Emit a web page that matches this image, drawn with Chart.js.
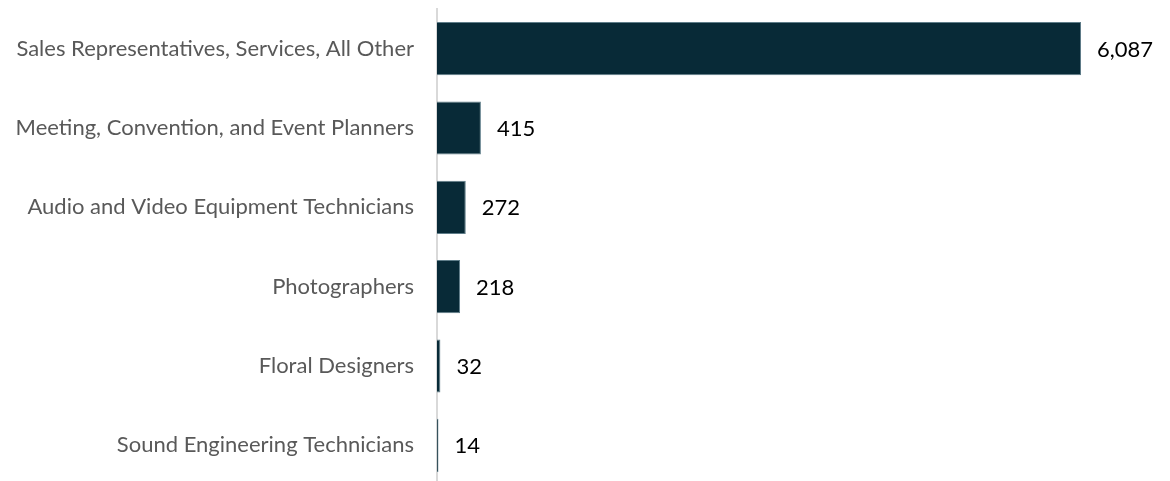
<!DOCTYPE html>
<html>
<head>
<meta charset="utf-8">
<script src="https://cdn.jsdelivr.net/npm/chart.js@4/dist/chart.umd.min.js"></script>
<style>
    html, body { margin: 0; padding: 0; background: #ffffff; overflow: hidden; }
    /* the plot runs a few pixels past the bottom edge of the page */
    #wrap { width: 1170px; height: 485px; position: relative; }
</style>
</head>
<body>
<div id="wrap"><canvas id="Bar_Chart"></canvas></div>
<script>
const occupations = [
    'Sales Representatives, Services, All Other',
    'Meeting, Convention, and Event Planners',
    'Audio and Video Equipment Technicians',
    'Photographers',
    'Floral Designers',
    'Sound Engineering Technicians'
];
const jobCounts = [6087, 415, 272, 218, 32, 14];

// writes the count just past the end of each bar
const valueLabels = {
    id: 'valueLabels',
    afterDatasetsDraw(chart) {
        const ctx = chart.ctx;
        const meta = chart.getDatasetMeta(0);
        ctx.save();
        ctx.font = '22px Lato, sans-serif';
        ctx.fillStyle = '#000000';
        ctx.textAlign = 'left';
        ctx.textBaseline = 'middle';
        meta.data.forEach((bar, i) => {
            ctx.fillText(jobCounts[i].toLocaleString('en-US'), bar.x + 16, bar.y + 1);
        });
        ctx.restore();
    }
};

const ctx = document.getElementById('Bar_Chart').getContext('2d');
new Chart(ctx, {
    type: 'bar',
    data: {
        labels: occupations,
        datasets: [{
            data: jobCounts,
            backgroundColor: '#082a37',
            borderColor: '#5f7d89',
            borderWidth: 1,
            barPercentage: 0.67,
            categoryPercentage: 1
        }]
    },
    options: {
        indexAxis: 'y',
        responsive: true,
        maintainAspectRatio: false,
        animation: false,
        layout: {
            padding: { top: 9, right: 0, bottom: 0, left: 0 }
        },
        scales: {
            x: {
                display: false,
                min: 0,
                max: 6928
            },
            y: {
                afterFit(scale) {
                    // fixed label column, and no extra room above/below for half labels
                    scale.width = 437;
                    scale.paddingTop = 0;
                    scale.paddingBottom = 0;
                },
                grid: { display: false, drawTicks: true, tickLength: 23 },
                border: { display: true, color: '#d9d9d9', width: 2 },
                ticks: {
                    color: '#595959',
                    padding: 0,
                    font: { family: 'Lato, sans-serif', size: 22 }
                }
            }
        },
        plugins: {
            legend: { display: false },
            tooltip: { enabled: false }
        }
    },
    plugins: [valueLabels]
});
</script>
</body>
</html>
